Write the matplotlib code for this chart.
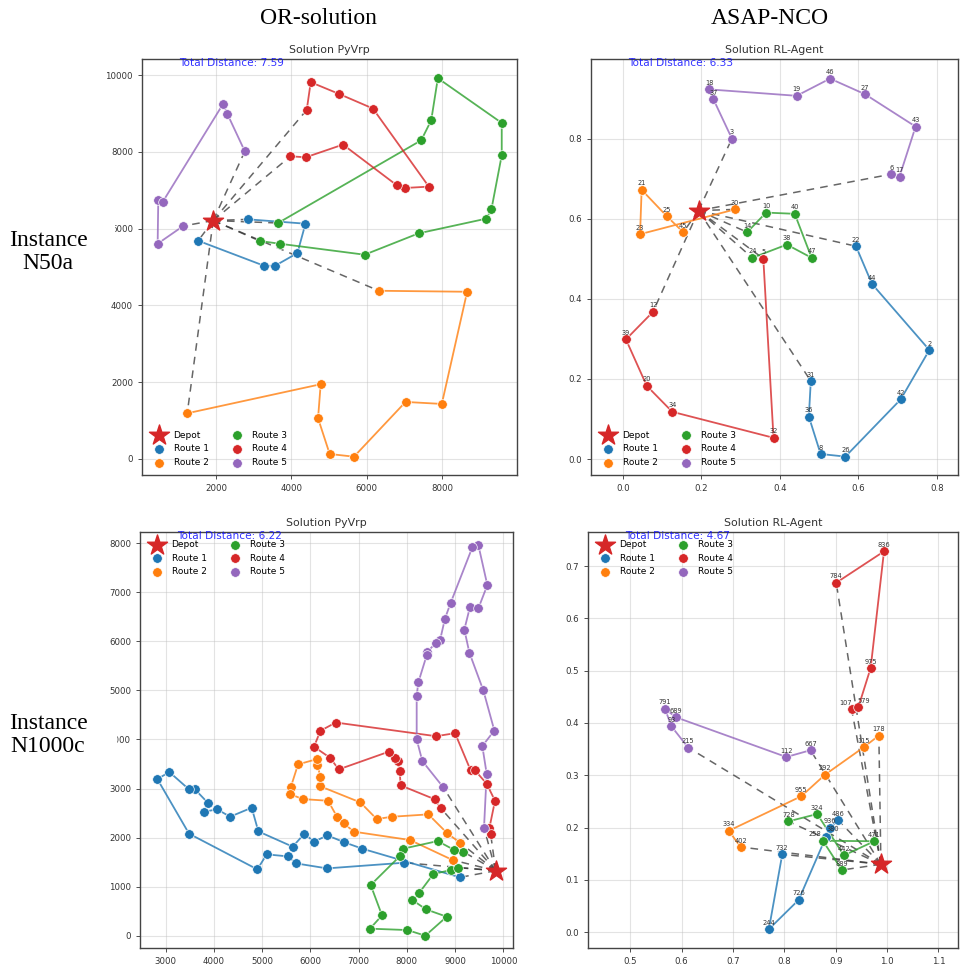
import matplotlib.pyplot as plt
from matplotlib.patches import Rectangle

plt.rcParams['font.family'] = 'DejaVu Sans'

colors = ['tab:blue', 'tab:orange', 'tab:green', 'tab:red', 'tab:purple']

# N50a, OR-solution (PyVrp)
n50_or_depot = (1930, 6210)
n50_or_routes = [
    [(2856, 6241), (4377, 6128), (4164, 5363), (3571, 5032), (3280, 5032), (1531, 5684)],
    [(6326, 4381), (8667, 4355), (7995, 1434), (7033, 1486), (5664, 60), (5020, 130),
     (4711, 1061), (4781, 1947), (1240, 1190)],
    [(3651, 6146), (7449, 8300), (7714, 8821), (7890, 9917), (9585, 8752), (9585, 7909),
     (9311, 6500), (9170, 6258), (7378, 5876), (5947, 5320), (3695, 5606), (3166, 5677)],
    [(4411, 9092), (4517, 9813), (5267, 9508), (6167, 9127), (7651, 7093), (7015, 7058),
     (6803, 7127), (5373, 8188), (4384, 7857), (3978, 7883)],
    [(1134, 6068), (455, 5606), (472, 6754), (588, 6693), (2193, 9249), (2300, 8996), (2768, 8014)],
]

# N50a, ASAP-NCO (RL-Agent)
n50_rl_depot = (0.193, 0.621)
n50_rl_ids = [
    [22, 44, 2, 42, 26, 8, 36, 31],
    [30, 23, 21, 25, 45],
    [14, 10, 40, 47, 38, 24],
    [5, 32, 34, 20, 39, 12],
    [3, 37, 18, 19, 46, 27, 43, 17, 6],
]
n50_rl_routes = [
    [(0.594, 0.532), (0.635, 0.4375), (0.781, 0.2725), (0.708, 0.149), (0.567, 0.006),
     (0.504, 0.0125), (0.474, 0.106), (0.479, 0.195)],
    [(0.286, 0.624), (0.044, 0.562), (0.048, 0.673), (0.112, 0.607), (0.154, 0.567)],
    [(0.317, 0.567), (0.365, 0.616), (0.438, 0.613), (0.481, 0.503), (0.418, 0.536), (0.330, 0.503)],
    [(0.358, 0.501), (0.384, 0.053), (0.126, 0.118), (0.061, 0.183), (0.008, 0.299), (0.077, 0.368)],
    [(0.278, 0.801), (0.231, 0.899), (0.220, 0.924), (0.443, 0.908), (0.528, 0.951),
     (0.617, 0.912), (0.746, 0.831), (0.705, 0.706), (0.684, 0.712)],
]

# N1000c, OR-solution (PyVrp)
n1000_or_depot = (9842, 1325)
n1000_or_routes = [
    [(9102, 1189), (7077, 1773), (6690, 1909), (6352, 2045), (6075, 1916), (5875, 2079),
     (5633, 1814), (4921, 2126), (4783, 2609), (4334, 2425), (4071, 2575), (3788, 2527),
     (3885, 2697), (3608, 2982), (3484, 2982), (3076, 3336), (2827, 3193), (3484, 2079),
     (4900, 1352), (5094, 1658), (5529, 1617), (5702, 1474), (6345, 1372), (7948, 1488)],
    [(9102, 1895), (8840, 2086), (8446, 2473), (7693, 2425), (7375, 2378), (7036, 2717),
     (6194, 3050), (6208, 3240), (6146, 3478), (6139, 3601), (5744, 3492), (5592, 3023),
     (5578, 2887), (5840, 2785), (6366, 2751), (6552, 2425), (6690, 2289), (6905, 2120),
     (8066, 1950), (8950, 1542)],
    [(9171, 1712), (8985, 1746), (8639, 1929), (7921, 1773), (7858, 1624), (7250, 1033),
     (7485, 414), (7236, 143), (8010, 115), (8383, 0), (8826, 387), (8397, 537),
     (8114, 727), (8259, 876), (8549, 1257), (8909, 1338), (9067, 1386)],
    [(8708, 2595), (8584, 2779), (7872, 3064), (7851, 3349), (7810, 3567), (7755, 3614),
     (7623, 3750), (6587, 3390), (6407, 3628), (6075, 3852), (6207, 4176), (6525, 4346),
     (8605, 4067), (8999, 4128), (9323, 3370), (9413, 3370), (9655, 3098), (9828, 2751),
     (9710, 2188), (9738, 2072)],
    [(9600, 2201), (9655, 3302), (9565, 3866), (9814, 4183), (9586, 5000), (9296, 5771),
     (9192, 6241), (9310, 6705), (9482, 6671), (9669, 7148), (9482, 7966), (9358, 7918),
     (8909, 6787), (8791, 6466), (8688, 6023), (8605, 5975), (8425, 5785), (8411, 5716),
     (8238, 5164), (8204, 4892), (8204, 4001), (8321, 3560), (8757, 3023)],
]

# N1000c, ASAP-NCO (RL-Agent)
n1000_rl_depot = (0.988, 0.130)
n1000_rl_ids = [
    [732, 244, 726, 380, 936, 486],
    [178, 115, 292, 955, 334, 402],
    [728, 324, 442, 471, 258, 889],
    [107, 579, 975, 836, 784],
    [215, 93, 791, 689, 112, 667],
]
n1000_rl_routes = [
    [(0.796, 0.149), (0.770, 0.006), (0.828, 0.062), (0.881, 0.182), (0.888, 0.200), (0.905, 0.214)],
    [(0.984, 0.376), (0.955, 0.354), (0.879, 0.301), (0.833, 0.260), (0.692, 0.194), (0.715, 0.163)],
    [(0.808, 0.212), (0.864, 0.226), (0.916, 0.147), (0.975, 0.174), (0.875, 0.175), (0.912, 0.119)],
    [(0.931, 0.426), (0.944, 0.430), (0.968, 0.505), (0.994, 0.728), (0.901, 0.668)],
    [(0.613, 0.353), (0.580, 0.394), (0.568, 0.427), (0.589, 0.411), (0.804, 0.335), (0.851, 0.348)],
]

# small nudges for labels that sit on top of each other
label_nudge = {107: (-4, 0), 579: (4, 0), 380: (5, 1), 258: (-6, 0)}


def draw_solution(ax, depot, routes, title, dist, ids=None, loc='lower left'):
    handles = []
    for i, route in enumerate(routes):
        xs = [p[0] for p in route]
        ys = [p[1] for p in route]
        # depot connections
        for px, py in [(xs[0], ys[0]), (xs[-1], ys[-1])]:
            ax.plot([depot[0], px], [depot[1], py], color='#333', lw=1.1,
                    ls=(0, (5, 4)), alpha=0.75, zorder=1)
        ax.plot(xs, ys, color=colors[i], lw=1.3, alpha=0.8, zorder=2)
        h = ax.scatter(xs, ys, s=48, color=colors[i], edgecolors='white',
                       linewidths=0.5, zorder=3, label=f'Route {i + 1}')
        handles.append(h)
        if ids is not None:
            for nid, x, y in zip(ids[i], xs, ys):
                dx, dy = label_nudge.get(nid, (0, 0))
                ax.annotate(str(nid), (x, y), xytext=(dx, 2.5 + dy), textcoords='offset points',
                            ha='center', va='bottom', fontsize=4.8, color='#333', zorder=4)
    d = ax.scatter([depot[0]], [depot[1]], marker='*', s=230, color='tab:red',
                   zorder=5, label='Depot')
    ax.legend(handles=[d] + handles, loc=loc, ncol=2, frameon=False, fontsize=6.5,
              handletextpad=0.6, columnspacing=2.2)
    ax.set_title(title, fontsize=7.9, color='#333', pad=4)
    ax.text(0.1, 0.99, f'Total Distance: {dist}', transform=ax.transAxes,
            color='blue', alpha=0.8, fontsize=7.6, va='center', ha='left', zorder=6)
    ax.grid(True, color='#bbb', alpha=0.4, lw=0.8)
    ax.set_axisbelow(True)
    ax.tick_params(labelsize=6.2, colors='#333', length=3, width=0.6)
    for s in ax.spines.values():
        s.set_color('#444')
        s.set_linewidth(1.0)


W = 966
fig = plt.figure(figsize=(9.66, 9.66), dpi=100)

def px_axes(left, top, right, bottom):
    return fig.add_axes([left / W, 1 - bottom / W, (right - left) / W, (bottom - top) / W])

ax1 = px_axes(142, 59, 517, 475)
draw_solution(ax1, n50_or_depot, n50_or_routes, 'Solution PyVrp', '7.59')
ax1.set_xlim(40, 9990)
ax1.set_ylim(-417, 10417)
ax1.set_xticks([2000, 4000, 6000, 8000])
ax1.set_yticks([0, 2000, 4000, 6000, 8000, 10000])

ax2 = px_axes(591, 59, 958, 475)
draw_solution(ax2, n50_rl_depot, n50_rl_routes, 'Solution RL-Agent', '6.33', ids=n50_rl_ids)
ax2.set_xlim(-0.081, 0.854)
ax2.set_ylim(-0.04, 1.0)
ax2.set_xticks([0.0, 0.2, 0.4, 0.6, 0.8])
ax2.set_yticks([0.0, 0.2, 0.4, 0.6, 0.8])

ax3 = px_axes(140, 532, 513, 948)
draw_solution(ax3, n1000_or_depot, n1000_or_routes, 'Solution PyVrp', '6.22', loc='upper left')
ax3.set_xlim(2467, 10201)
ax3.set_ylim(-251, 8230)
ax3.set_xticks(range(3000, 10001, 1000))
ax3.set_yticks(range(0, 8001, 1000))

ax4 = px_axes(588, 532, 958, 948)
draw_solution(ax4, n1000_rl_depot, n1000_rl_routes, 'Solution RL-Agent', '4.67',
              ids=n1000_rl_ids, loc='upper left')
ax4.set_xlim(0.418, 1.138)
ax4.set_ylim(-0.030, 0.765)
ax4.set_xticks([0.5, 0.6, 0.7, 0.8, 0.9, 1.0, 1.1])
ax4.set_yticks([0.0, 0.1, 0.2, 0.3, 0.4, 0.5, 0.6, 0.7])

# white label blocks on the left (they cover part of the tick labels)
for top, bottom, right in [(218, 285, 114), (705, 768, 116)]:
    fig.patches.append(Rectangle((0, 1 - bottom / W), right / W, (bottom - top) / W,
                                 transform=fig.transFigure, color='white', zorder=10))

serif = ['Liberation Serif', 'DejaVu Serif']
fig.text(318 / W, 1 - 18 / W, 'OR-solution', ha='center', va='center', fontsize=17, family=serif)
fig.text(770 / W, 1 - 18 / W, 'ASAP-NCO', ha='center', va='center', fontsize=17, family=serif)
fig.text(48 / W, 1 - 252 / W, 'Instance\nN50a', ha='center', va='center', fontsize=17,
         family=serif, linespacing=1.1, zorder=11)
fig.text(48 / W, 1 - 735 / W, 'Instance\nN1000c', ha='center', va='center', fontsize=17,
         family=serif, linespacing=1.1, zorder=11)

fig.savefig('out.png', dpi=100)
